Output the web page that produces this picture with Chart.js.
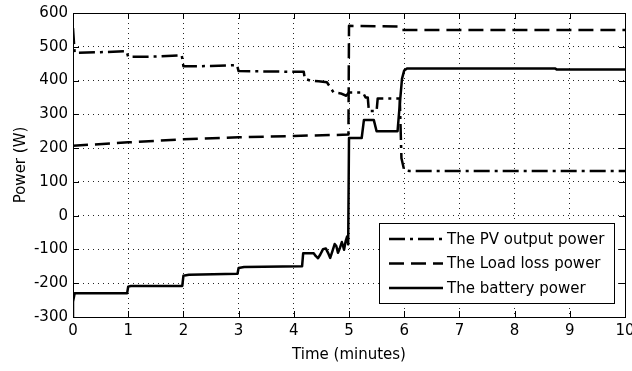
<!DOCTYPE html>
<html>
<head>
<meta charset="utf-8">
<script src="https://cdn.jsdelivr.net/npm/chart.js@4"></script>
<style>
  body { margin: 0; background: #fff; }
  #wrap { width: 632px; height: 371px; }
</style>
</head>
<body>
<div id="wrap"><canvas id="power_chart" width="632" height="371"></canvas></div>
<script>
// Time axis (minutes) and power (W)
var pvTime  = [0, 0.03, 0.5, 0.97, 1.0, 1.5, 1.97, 2.0, 2.5, 2.97, 3.0, 3.5, 3.95, 4.18, 4.2, 4.3, 4.45, 4.6, 4.66, 4.72, 4.85, 4.95, 5.0, 5.25, 5.3, 5.34, 5.36, 5.5, 5.52, 5.92, 5.95, 6.0, 6.1, 10];
var pvPower = [555, 482, 484, 487, 470, 471, 475, 442, 443, 446, 428, 427, 426, 426, 405, 400, 398, 395, 380, 365, 362, 355, 365, 365, 350, 350, 310, 310, 347, 347, 170, 135, 132, 132];

var loadTime  = [0, 1, 2, 3, 4, 4.99, 5.0, 5.93, 5.96, 10];
var loadPower = [207, 217, 226, 232, 236, 240, 562, 560, 550, 550];

var battTime  = [0, 0, 0.03, 0.98, 1.0, 1.05, 1.98, 2.0, 2.1, 2.98, 3.0, 3.1, 4.15, 4.17, 4.36, 4.40, 4.44, 4.48, 4.53, 4.58, 4.62, 4.66, 4.70, 4.74, 4.77, 4.80, 4.83, 4.87, 4.89, 4.91, 4.94, 4.965, 4.985, 5.0, 5.23, 5.27, 5.45, 5.5, 5.88, 5.92, 5.96, 6.0, 6.05, 8.73, 8.76, 10];
var battPower = [-300, -255, -230, -230, -210, -208, -208, -178, -175, -172, -155, -152, -150, -111, -111, -120, -126, -115, -99, -97, -110, -125, -105, -84, -90, -110, -98, -78, -88, -101, -75, -62, -85, 230, 230, 283, 283, 250, 250, 330, 405, 430, 436, 436, 433, 433];

var seriesNames = ['The PV output power', 'The Load loss power', 'The battery power'];
var yTicks = [-300, -200, -100, 0, 100, 200, 300, 400, 500, 600];

function toPoints(xs, ys) {
    return xs.map(function (t, i) { return { x: t, y: ys[i] }; });
}

var fontName = '"DejaVu Sans", sans-serif';

// boîte autour du graphique + graduations vers l'intérieur
var frameTicks = {
    id: 'frameTicks',
    afterDatasetsDraw: function (chart) {
        var ctx = chart.ctx, a = chart.chartArea;
        var sx = chart.scales.x, sy = chart.scales.y;
        var len = 6;
        ctx.save();
        ctx.strokeStyle = '#000';
        ctx.lineWidth = 1;
        ctx.setLineDash([]);
        ctx.strokeRect(Math.round(a.left) + 0.5, Math.round(a.top) + 0.5, Math.round(a.right - a.left), Math.round(a.bottom - a.top));
        ctx.beginPath();
        sx.ticks.forEach(function (t) {
            var px = Math.round(sx.getPixelForValue(t.value)) + 0.5;
            ctx.moveTo(px, a.bottom); ctx.lineTo(px, a.bottom - len);
            ctx.moveTo(px, a.top); ctx.lineTo(px, a.top + len);
        });
        sy.ticks.forEach(function (t) {
            var py = Math.round(sy.getPixelForValue(t.value)) + 0.5;
            ctx.moveTo(a.left, py); ctx.lineTo(a.left + len, py);
            ctx.moveTo(a.right, py); ctx.lineTo(a.right - len, py);
        });
        ctx.stroke();
        ctx.restore();
    }
};

// légende dans le coin bas droit
var boxLegend = {
    id: 'boxLegend',
    afterDatasetsDraw: function (chart) {
        var ctx = chart.ctx, a = chart.chartArea;
        var w = 235, h = 80;
        var x0 = Math.round(a.right - 11 - w), y0 = Math.round(a.bottom - 14 - h);
        ctx.save();
        ctx.fillStyle = '#fff';
        ctx.fillRect(x0, y0, w, h);
        ctx.strokeStyle = '#000';
        ctx.lineWidth = 1;
        ctx.strokeRect(x0 + 0.5, y0 + 0.5, w, h);
        chart.data.datasets.forEach(function (ds, i) {
            var y = y0 + 16 + i * 24.5;
            ctx.setLineDash(ds.borderDash || []);
            ctx.lineWidth = ds.borderWidth;
            ctx.beginPath();
            ctx.moveTo(x0 + 10, y);
            ctx.lineTo(x0 + 64, y);
            ctx.stroke();
            ctx.setLineDash([]);
            ctx.fillStyle = '#000';
            ctx.font = '15px ' + fontName;
            ctx.textBaseline = 'middle';
            ctx.fillText(ds.label, x0 + 68, y + 1);
        });
        ctx.restore();
    }
};

var data = {
    datasets: [{
        label: seriesNames[0],
        data: toPoints(pvTime, pvPower),
        borderColor: '#000',
        borderWidth: 2.5,
        borderDash: [16, 5, 3, 5]
    }, {
        label: seriesNames[1],
        data: toPoints(loadTime, loadPower),
        borderColor: '#000',
        borderWidth: 2.5,
        borderDash: [15, 7]
    }, {
        label: seriesNames[2],
        data: toPoints(battTime, battPower),
        borderColor: '#000',
        borderWidth: 2.5
    }]
};

var options = {
    responsive: false,
    animation: false,
    layout: { padding: { left: 0, right: 7, top: 13, bottom: 0 } },
    elements: { point: { radius: 0 }, line: { tension: 0, borderJoinStyle: 'round' } },
    plugins: {
        legend: { display: false },
        tooltip: { enabled: false }
    },
    scales: {
        x: {
            type: 'linear',
            min: 0,
            max: 10,
            ticks: { stepSize: 1, color: '#000', padding: 5, maxRotation: 0, font: { family: fontName, size: 15 } },
            grid: { color: 'rgba(0,0,0,0.85)', lineWidth: 1, drawTicks: false },
            border: { display: false, dash: [1, 4] },
            title: { display: true, text: 'Time (minutes)', color: '#000', font: { family: fontName, size: 15 }, padding: { top: 0, bottom: 7 } },
            afterFit: function (scale) { scale.height = 54; scale.paddingLeft = 0; scale.paddingRight = 0; }
        },
        y: {
            type: 'linear',
            min: -300,
            max: 600,
            afterBuildTicks: function (scale) { scale.ticks = yTicks.map(function (v) { return { value: v }; }); },
            ticks: { color: '#000', padding: 5, font: { family: fontName, size: 15 } },
            grid: { color: 'rgba(0,0,0,0.85)', lineWidth: 1, drawTicks: false },
            border: { display: false, dash: [1, 4] },
            title: { display: true, text: 'Power (W)', color: '#000', font: { family: fontName, size: 15 }, padding: { top: 12, bottom: 0 } },
            afterFit: function (scale) { scale.width = 73; scale.paddingTop = 0; scale.paddingBottom = 0; }
        }
    }
};

var config = {
    type: 'line',
    data: data,
    options: options,
    plugins: [frameTicks, boxLegend]
};

var power_chart = new Chart(document.getElementById('power_chart').getContext('2d'), config);
</script>
</body>
</html>
